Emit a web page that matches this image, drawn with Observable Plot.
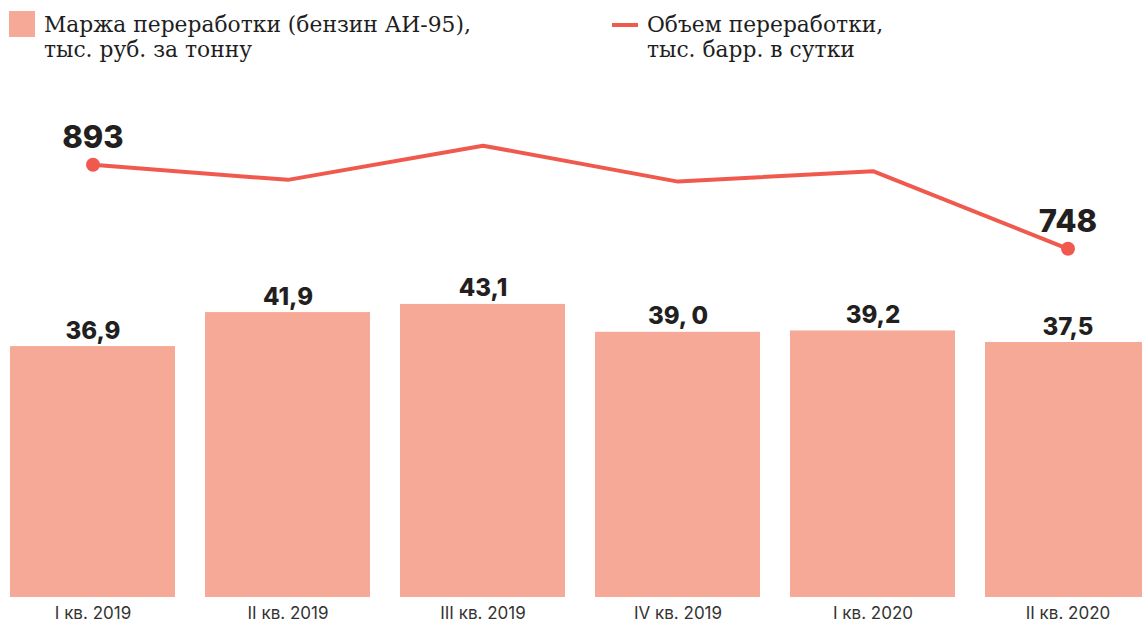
<!DOCTYPE html>
<html><head><meta charset="utf-8">
<script src="https://cdn.jsdelivr.net/npm/d3@7"></script>
<script src="https://cdn.jsdelivr.net/npm/@observablehq/plot@0.6"></script>
<style>
body{margin:0;background:#fff;}
#wrap{position:relative;width:1142px;height:626px;overflow:hidden;background:#fff;}
#wrap svg{position:absolute;left:0;top:0;}
.leg{position:absolute;font-family:"DejaVu Serif";font-size:21.8px;line-height:25px;color:#1e1e1e;white-space:nowrap;}
.sw{position:absolute;}
</style></head><body>
<div id="wrap">
  <div class="sw" style="left:9px;top:11px;width:26px;height:26px;background:#f7a997"></div>
  <div class="leg" style="left:44px;top:12px">Маржа переработки (бензин АИ-95),<br>тыс. руб. за тонну</div>
  <div class="sw" style="left:612px;top:23px;width:26px;height:4px;background:#f05a4e"></div>
  <div class="leg" style="left:647px;top:12px">Объем переработки,<br>тыс. барр. в сутки</div>
</div>
<script>
const quarters = ["I кв. 2019","II кв. 2019","III кв. 2019","IV кв. 2019","I кв. 2020","II кв. 2020"];
const marginValues = [36.9, 41.9, 43.1, 39.0, 39.2, 37.5];
const marginLabels = ["36,9","41,9","43,1","39, 0","39,2","37,5"];
const volumeValues = [893, 867, 926, 864, 882, 748];
const volumeLabels = ["893","","","","","748"];

const bars = quarters.map((q,i)=>({q, v: marginValues[i], label: marginLabels[i]}));
const pts = quarters.map((q,i)=>({q, v: volumeValues[i], label: volumeLabels[i]}));
const ends = pts.filter(d => d.label);

const xOpts = {type:"band", domain: quarters, range: [-21.2, 1180.3], padding: 0.155, align: 0.5};

const barPlot = Plot.plot({
  width: 1142, height: 626,
  marginTop: 0, marginRight: 0, marginLeft: 0, marginBottom: 29,
  x: {...xOpts},
  y: {domain: [0, 50], range: [597, 597 - 6.8 * 50], axis: null},
  style: {fontFamily: "Inter", background: "transparent", overflow: "visible"},
  marks: [
    Plot.barY(bars, {x: "q", y: "v", fill: "#f7a997"}),
    Plot.text(bars, {x: "q", y: "v", text: "label", lineAnchor: "bottom", dy: -8, fontSize: 24, fontWeight: 800, fill: "#231f20"}),
    Plot.axisX({tickSize: 0, tickPadding: 9, fontSize: 17, fill: "#333", label: null})
  ]
});

const linePlot = Plot.plot({
  width: 1142, height: 626, margin: 0,
  x: {...xOpts, axis: null},
  y: {domain: [748, 893], range: [248.3, 164.3], axis: null},
  style: {fontFamily: "Inter", background: "transparent", overflow: "visible"},
  marks: [
    Plot.line(pts, {x: "q", y: "v", stroke: "#f05a4e", strokeWidth: 4, strokeLinejoin: "miter"}),
    Plot.dot(ends, {x: "q", y: "v", r: 7, fill: "#f05a4e"}),
    Plot.text(ends, {x: "q", y: "v", text: "label", lineAnchor: "bottom", dy: -17, fontSize: 31, fontWeight: 800, fill: "#231f20"})
  ]
});

const wrap = document.getElementById("wrap");
wrap.appendChild(barPlot);
wrap.appendChild(linePlot);
</script>
</body></html>
